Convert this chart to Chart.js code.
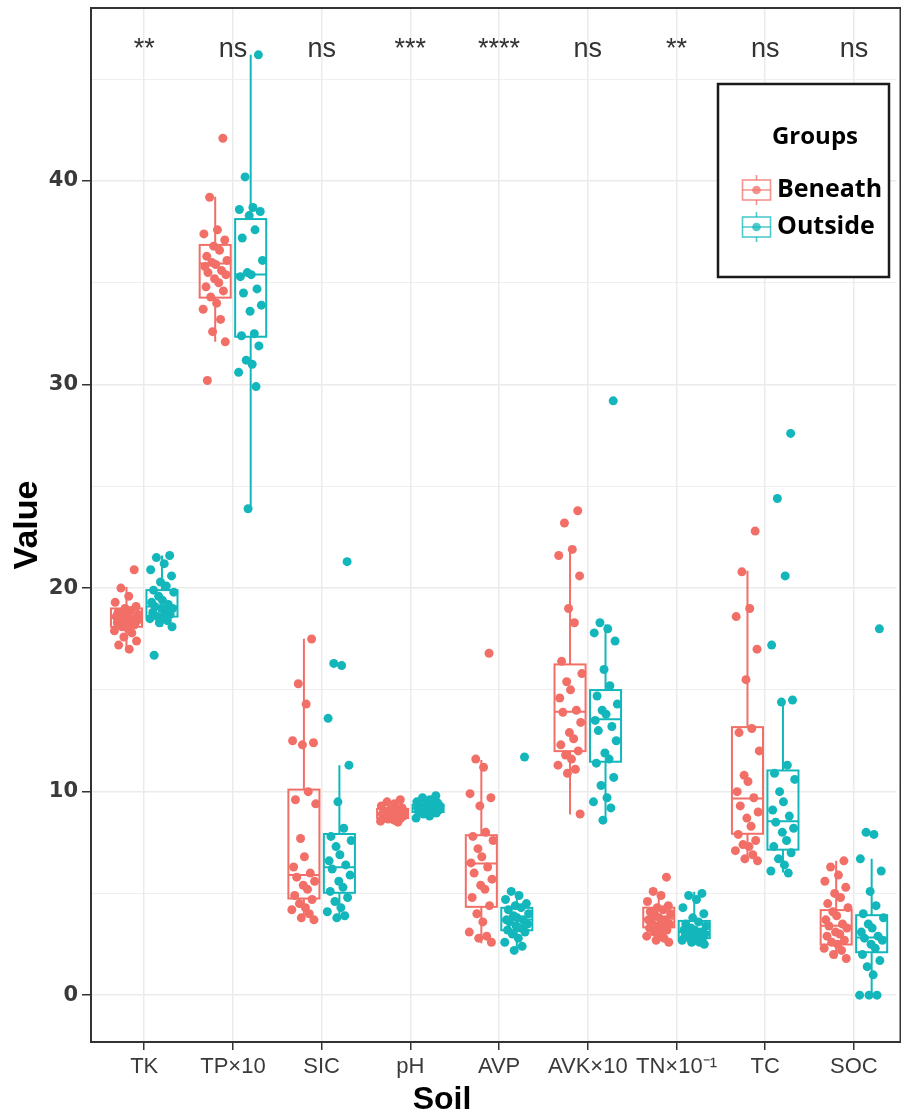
<!DOCTYPE html>
<html>
<head>
<meta charset="utf-8">
<script src="https://cdn.jsdelivr.net/npm/chart.js@4.4.1/dist/chart.umd.min.js"></script>
<style>
  html, body { margin: 0; padding: 0; background: #fff; overflow: hidden; }
  #wrap { width: 901px; height: 1113px; position: relative; }
  canvas { display: block; }
</style>
</head>
<body>
<div id="wrap"><canvas id="chart" width="901" height="1113" style="width:901px;height:1113px"></canvas></div>
<script>
// Soil properties beneath vs. outside the canopy
const categories = ['TK', 'TP×10', 'SIC', 'pH', 'AVP', 'AVK×10', 'TN×10⁻¹', 'TC', 'SOC'];
const sigLabels  = ['**', 'ns', 'ns', '***', '****', 'ns', '**', 'ns', 'ns'];
const yTickValues = [0, 5, 10, 15, 20, 25, 30, 35, 40, 45];

// Box statistics per category: whisker low, Q1, median, Q3, whisker high
const beneathLow  = [17.0, 32.1, 3.66, 8.5, 2.55, 8.88, 2.6, 6.6, 1.8];
const beneathQ1   = [18.1, 34.27, 4.75, 8.7, 4.34, 11.99, 3.33, 7.93, 2.49];
const beneathMed  = [18.55, 35.95, 5.91, 8.92, 6.47, 13.92, 3.75, 9.66, 3.41];
const beneathQ3   = [19.0, 36.86, 10.1, 9.15, 7.86, 16.25, 4.3, 13.17, 4.18];
const beneathHigh = [20.05, 39.23, 17.51, 9.6, 11.55, 21.9, 5.0, 20.85, 6.6];

const outsideLow  = [18.1, 23.9, 3.75, 8.7, 2.21, 8.6, 2.5, 6.03, 0.0];
const outsideQ1   = [18.6, 32.35, 5.03, 9.0, 3.19, 11.47, 2.8, 7.15, 2.11];
const outsideMed  = [19.1, 35.41, 6.29, 9.2, 3.72, 13.56, 3.1, 8.55, 2.83];
const outsideQ3   = [19.9, 38.13, 7.92, 9.35, 4.29, 14.99, 3.65, 11.04, 3.93];
const outsideHigh = [21.6, 46.2, 11.3, 9.8, 5.08, 18.21, 5.08, 14.57, 6.7];

// Individual samples per category
const beneathPoints = [
  [20.9, 20.0, 19.6, 19.3, 19.1, 19.0, 18.9, 18.8, 18.7, 18.7, 18.6, 18.6, 18.5, 18.5, 18.4, 18.4, 18.3, 18.3, 18.2, 18.1, 18.0, 17.9, 17.8, 17.6, 17.4, 17.2, 17.0],
  [42.1, 39.2, 37.6, 37.4, 37.1, 36.8, 36.6, 36.3, 36.1, 36.0, 35.9, 35.8, 35.6, 35.5, 35.4, 35.2, 35.0, 34.8, 34.6, 34.3, 34.0, 33.7, 33.2, 32.6, 32.1, 30.2],
  [17.5, 15.3, 14.3, 12.5, 12.4, 12.3, 10.0, 9.6, 9.4, 7.7, 6.8, 6.3, 6.0, 5.8, 5.6, 5.4, 5.2, 4.9, 4.7, 4.5, 4.3, 4.2, 4.0, 3.8, 3.7],
  [9.6, 9.5, 9.4, 9.3, 9.2, 9.15, 9.1, 9.05, 9.0, 9.0, 8.95, 8.9, 8.9, 8.85, 8.8, 8.8, 8.75, 8.7, 8.7, 8.65, 8.6, 8.55, 8.5, 9.1, 8.9],
  [16.8, 11.6, 11.2, 9.9, 9.7, 9.3, 8.0, 7.8, 7.6, 7.2, 6.8, 6.5, 6.3, 6.0, 5.7, 5.4, 5.2, 4.8, 4.4, 4.0, 3.6, 3.1, 2.9, 2.8, 2.6],
  [23.8, 23.2, 21.9, 21.6, 20.6, 19.0, 18.3, 16.4, 15.8, 15.4, 15.0, 14.6, 14.0, 13.9, 13.4, 12.9, 12.6, 12.3, 12.0, 11.8, 11.6, 11.3, 11.1, 10.9, 8.9],
  [5.8, 5.1, 4.9, 4.6, 4.4, 4.3, 4.2, 4.1, 4.0, 3.9, 3.8, 3.7, 3.7, 3.6, 3.5, 3.4, 3.4, 3.3, 3.2, 3.1, 3.0, 2.9, 2.8, 2.7, 2.6],
  [22.8, 20.8, 19.0, 18.6, 17.0, 15.5, 13.1, 12.9, 12.0, 10.8, 10.5, 10.0, 9.7, 9.3, 9.0, 8.7, 8.3, 7.9, 7.6, 7.4, 7.3, 7.1, 6.9, 6.7, 6.6],
  [6.6, 6.3, 5.9, 5.6, 5.3, 5.0, 4.8, 4.5, 4.3, 4.1, 3.9, 3.7, 3.5, 3.4, 3.3, 3.1, 3.0, 2.9, 2.7, 2.6, 2.5, 2.3, 2.2, 2.0, 1.8]
];
const outsidePoints = [
  [21.6, 21.5, 21.2, 20.9, 20.6, 20.3, 20.1, 19.9, 19.8, 19.6, 19.4, 19.3, 19.2, 19.1, 19.0, 19.0, 18.9, 18.8, 18.7, 18.6, 18.6, 18.5, 18.4, 18.3, 18.1, 16.7],
  [46.2, 40.2, 38.7, 38.6, 38.5, 38.3, 37.6, 37.2, 36.1, 35.5, 35.4, 35.3, 34.7, 34.5, 33.9, 33.6, 32.5, 32.4, 31.9, 31.2, 31.0, 30.6, 29.9, 23.9],
  [21.3, 16.3, 16.2, 13.6, 11.3, 9.5, 8.2, 7.8, 7.6, 7.3, 6.9, 6.6, 6.4, 6.2, 5.9, 5.6, 5.3, 5.1, 4.8, 4.6, 4.3, 4.1, 3.9, 3.8],
  [9.8, 9.7, 9.6, 9.5, 9.45, 9.4, 9.35, 9.3, 9.3, 9.25, 9.2, 9.2, 9.15, 9.1, 9.1, 9.05, 9.0, 9.0, 8.95, 8.9, 8.8, 8.7],
  [11.7, 5.1, 4.9, 4.7, 4.5, 4.4, 4.3, 4.2, 4.0, 3.9, 3.8, 3.7, 3.7, 3.6, 3.5, 3.4, 3.3, 3.2, 3.1, 3.0, 2.8, 2.6, 2.4, 2.2],
  [29.2, 18.3, 18.0, 17.8, 17.4, 16.0, 15.2, 14.7, 14.3, 14.0, 13.8, 13.5, 13.2, 13.0, 12.5, 11.9, 11.6, 11.4, 10.7, 10.3, 9.7, 9.5, 9.2, 8.6],
  [5.0, 4.9, 4.7, 4.3, 4.0, 3.8, 3.6, 3.5, 3.4, 3.3, 3.2, 3.2, 3.1, 3.1, 3.0, 3.0, 2.9, 2.9, 2.8, 2.8, 2.7, 2.7, 2.6, 2.6, 2.5],
  [27.6, 24.4, 20.6, 17.2, 14.5, 14.4, 11.3, 10.9, 10.6, 10.0, 9.5, 9.1, 8.8, 8.5, 8.2, 8.0, 7.6, 7.3, 7.0, 6.7, 6.4, 6.1, 6.0],
  [18.0, 8.0, 7.9, 6.7, 6.1, 5.1, 4.4, 4.0, 3.8, 3.5, 3.3, 3.1, 2.9, 2.8, 2.7, 2.5, 2.3, 2.0, 1.7, 1.4, 1.0, 0.0, 0.0, 0.0]
];

// Fixed horizontal scatter pattern for the sample dots (fraction of jitter width)
const JITTER = [0.62, -0.45, 0.18, -0.91, 0.77, -0.12, 0.35, -0.68, 0.95, -0.27, 0.04, -0.83, 0.51, -0.58, 0.86, -0.05,
                0.29, -0.74, 0.66, -0.36, 0.12, -0.97, 0.43, -0.21, 0.81, -0.63, 0.22, -0.49, 0.70, -0.15, 0.57, -0.80];

const COLORS = { Beneath: '#F26F68', Outside: '#13B7BB' };
const DODGE = 0.2;       // group offset from category centre
const BOX_HALF = 0.175;  // half box width
const JITTER_W = 0.14;   // max horizontal jitter
const SIG_Y = 46.1;      // baseline of significance labels
const AXIS_TEXT = '#3A3A3A';
const SANS = '"Liberation Sans", Arial, sans-serif';

function toPoints(values, offset) {
  const out = [];
  values.forEach((vals, i) => {
    vals.forEach((v, k) => out.push({ x: i + offset + JITTER[k % JITTER.length] * JITTER_W, y: v }));
  });
  return out;
}

const boxSets = [
  { offset: -DODGE, color: COLORS.Beneath, low: beneathLow, q1: beneathQ1, med: beneathMed, q3: beneathQ3, high: beneathHigh },
  { offset:  DODGE, color: COLORS.Outside, low: outsideLow, q1: outsideQ1, med: outsideMed, q3: outsideQ3, high: outsideHigh }
];

// Box-and-whisker outlines, drawn beneath the sample dots
const boxPlugin = {
  id: 'boxes',
  beforeDatasetsDraw(chart) {
    const { ctx, scales: { x, y } } = chart;
    ctx.save();
    ctx.lineWidth = 2;
    boxSets.forEach(s => {
      ctx.strokeStyle = s.color;
      categories.forEach((c, i) => {
        const xl = x.getPixelForValue(i + s.offset - BOX_HALF);
        const xr = x.getPixelForValue(i + s.offset + BOX_HALF);
        const xm = x.getPixelForValue(i + s.offset);
        const yLow = y.getPixelForValue(s.low[i]);
        const yQ1 = y.getPixelForValue(s.q1[i]);
        const yMed = y.getPixelForValue(s.med[i]);
        const yQ3 = y.getPixelForValue(s.q3[i]);
        const yHigh = y.getPixelForValue(s.high[i]);
        ctx.strokeRect(xl, yQ3, xr - xl, yQ1 - yQ3);
        ctx.beginPath();
        ctx.moveTo(xl, yMed); ctx.lineTo(xr, yMed);
        ctx.moveTo(xm, yQ3); ctx.lineTo(xm, yHigh);
        ctx.moveTo(xm, yQ1); ctx.lineTo(xm, yLow);
        ctx.stroke();
      });
    });
    ctx.restore();
  }
};

// Significance labels, panel frame, x-axis title and group key
const overlayPlugin = {
  id: 'overlay',
  afterDraw(chart) {
    const { ctx, chartArea: a, scales: { x, y } } = chart;
    ctx.save();
    // significance marks
    ctx.fillStyle = '#333333';
    ctx.font = '27px ' + SANS;
    ctx.textAlign = 'center';
    ctx.textBaseline = 'alphabetic';
    sigLabels.forEach((s, i) => ctx.fillText(s, x.getPixelForValue(i), y.getPixelForValue(SIG_Y)));

    // panel frame (right edge runs past the canvas)
    ctx.strokeStyle = '#333333';
    ctx.lineWidth = 2;
    ctx.strokeRect(a.left, a.top, a.right - a.left + 4, a.bottom - a.top);

    // x-axis title
    ctx.fillStyle = '#000000';
    ctx.font = 'bold 32px ' + SANS;
    ctx.textAlign = 'center';
    ctx.textBaseline = 'alphabetic';
    ctx.fillText('Soil', 442, 1109);

    // group key
    const L = { x: 718, y: 84, w: 171, h: 193 };
    ctx.fillStyle = '#ffffff';
    ctx.fillRect(L.x, L.y, L.w, L.h);
    ctx.strokeStyle = '#1a1a1a';
    ctx.lineWidth = 2.5;
    ctx.strokeRect(L.x, L.y, L.w, L.h);
    ctx.fillStyle = '#000000';
    ctx.font = 'bold 24px "Open Sans", "Noto Sans", sans-serif';
    ctx.textAlign = 'center';
    ctx.textBaseline = 'middle';
    ctx.fillText('Groups', 815, 137);

    [['Beneath', COLORS.Beneath, 190], ['Outside', COLORS.Outside, 227]].forEach(([name, col, cy]) => {
      const cx = 756.5;
      ctx.save();
      ctx.globalAlpha = 0.75;
      ctx.strokeStyle = col;
      ctx.lineWidth = 1.6;
      ctx.strokeRect(742.5, cy - 10, 28, 20);
      ctx.beginPath();
      ctx.moveTo(742.5, cy); ctx.lineTo(770.5, cy);
      ctx.moveTo(cx, cy - 15); ctx.lineTo(cx, cy - 10);
      ctx.moveTo(cx, cy + 10); ctx.lineTo(cx, cy + 15);
      ctx.stroke();
      ctx.fillStyle = col;
      ctx.beginPath(); ctx.arc(cx, cy, 4.3, 0, Math.PI * 2); ctx.fill();
      ctx.restore();
      ctx.fillStyle = '#000000';
      ctx.font = 'bold 25px "Open Sans", "Noto Sans", sans-serif';
      ctx.textAlign = 'left';
      ctx.textBaseline = 'middle';
      ctx.fillText(name, 777, cy);
    });
    ctx.restore();
  }
};

new Chart(document.getElementById('chart'), {
  type: 'scatter',
  data: {
    datasets: [
      { label: 'Beneath', data: toPoints(beneathPoints, -DODGE), backgroundColor: COLORS.Beneath, pointRadius: 4.5, pointBorderWidth: 0, pointHoverRadius: 4.5 },
      { label: 'Outside', data: toPoints(outsidePoints, DODGE), backgroundColor: COLORS.Outside, pointRadius: 4.5, pointBorderWidth: 0, pointHoverRadius: 4.5 }
    ]
  },
  options: {
    responsive: false,
    devicePixelRatio: 1,
    animation: false,
    layout: { padding: { top: 8, right: 0, left: 0, bottom: 0 } },
    plugins: { legend: { display: false }, tooltip: { enabled: false } },
    scales: {
      x: {
        type: 'linear',
        min: -0.6,
        max: 8.48,
        afterFit(s) { s.height = 71; s.paddingLeft = 0; s.paddingRight = 0; },
        afterBuildTicks(s) { s.ticks = categories.map((c, i) => ({ value: i })); },
        grid: { color: '#EBEBEB', lineWidth: 1.5, drawTicks: true, tickLength: 8, tickColor: '#333333', tickWidth: 1.5 },
        border: { display: false },
        ticks: {
          autoSkip: false, maxRotation: 0, minRotation: 0, padding: 4,
          color: AXIS_TEXT,
          font: { family: SANS, size: 22 },
          callback: v => categories[v]
        }
      },
      y: {
        type: 'linear',
        min: -2.3,
        max: 48.5,
        afterFit(s) { s.width = 91; s.paddingTop = 0; s.paddingBottom = 0; },
        afterBuildTicks(s) { s.ticks = yTickValues.map(v => ({ value: v })); },
        grid: {
          color: '#EBEBEB',
          lineWidth: c => (c.tick && c.tick.value % 10 === 0 ? 1.5 : 0.8),
          drawTicks: true, tickLength: 9,
          tickColor: c => (c.tick && c.tick.value % 10 === 0 ? '#333333' : 'rgba(0,0,0,0)'),
          tickWidth: 1.5
        },
        border: { display: false },
        ticks: {
          padding: 4,
          color: AXIS_TEXT,
          font: { family: '"DejaVu Sans", sans-serif', size: 21, weight: 'bold' },
          callback: v => (v % 10 === 0 ? String(v) : '')
        },
        title: {
          display: true, text: 'Value', color: '#000000',
          font: { family: SANS, size: 34, weight: 'bold', lineHeight: 1 },
          padding: { top: 11, bottom: 0 }
        }
      }
    }
  },
  plugins: [boxPlugin, overlayPlugin]
});
</script>
</body>
</html>
